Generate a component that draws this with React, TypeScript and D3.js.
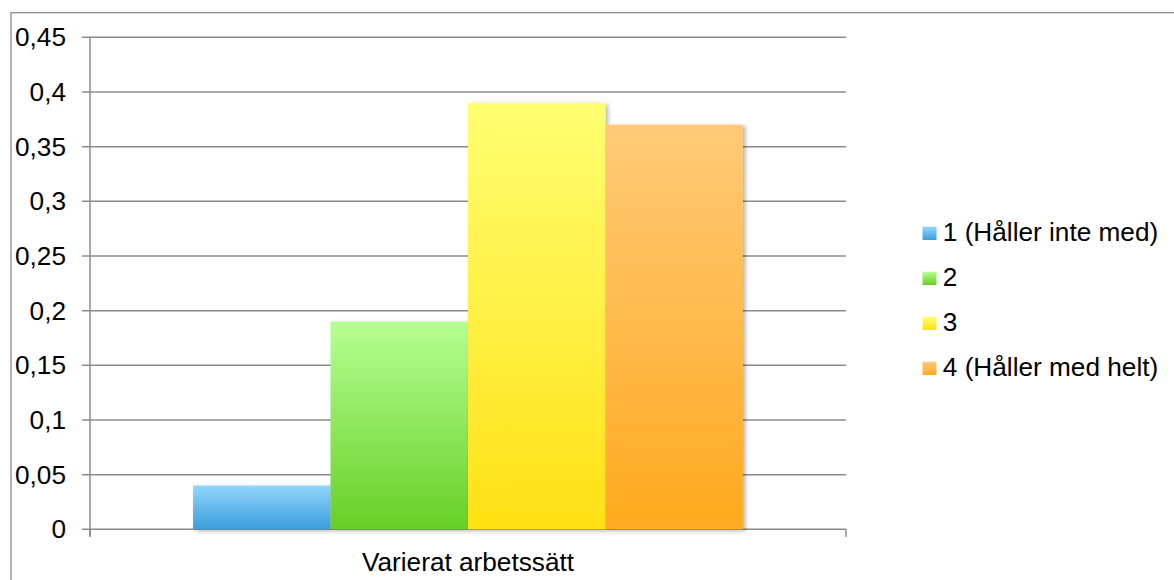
import React from "react";
import * as d3 from "d3";

// Share of answers per agreement level for one statement
const categories = ["Varierat arbetssätt"];
const seriesNames = ["1 (Håller inte med)", "2", "3", "4 (Håller med helt)"];
const seriesValues = [0.04, 0.19, 0.39, 0.37];
const yTicks = [0, 0.05, 0.1, 0.15, 0.2, 0.25, 0.3, 0.35, 0.4, 0.45];
// top / bottom colours of each bar's vertical gradient
const gradTop = ["#92d6fc", "#b6ff93", "#ffff72", "#ffca78"];
const gradBottom = ["#3b9edb", "#68cf26", "#ffe115", "#ffaa1f"];

const W = 1174;
const H = 580;
const plot = { left: 90, right: 846, top: 37.3, bottom: 529.3 };
const FONT = "'Liberation Sans', Arial, sans-serif";
const GRID = "#8c8c8c";
const FS = 26.2;

const fmt = (v: number) => String(v).replace(".", ",");

export default function App() {
  const y = d3.scaleLinear().domain([0, 0.45]).range([plot.bottom, plot.top]);
  const x0 = d3
    .scaleBand<string>()
    .domain(categories)
    .range([plot.left, plot.right])
    .paddingInner(0)
    .paddingOuter(0);
  // gap width 150% of a bar: 4 bars + 1.5 bars of gap per category
  const bw = x0.bandwidth() / (seriesNames.length + 1.5);
  const x1 = d3
    .scaleBand<string>()
    .domain(seriesNames)
    .range([0.75 * bw, 0.75 * bw + seriesNames.length * bw]);

  const legendX = 922.5;
  const legendY0 = 241;
  const legendStep = 45;

  return (
    <svg
      width={W}
      height={H}
      style={{ position: "absolute", left: 0, top: 0, background: "#fff" }}
      fontFamily={FONT}
    >
      <defs>
        {seriesNames.map((_, i) => (
          <linearGradient key={i} id={`g${i}`} x1="0" y1="0" x2="0" y2="1">
            <stop offset="0" stopColor={gradTop[i]} />
            <stop offset="1" stopColor={gradBottom[i]} />
          </linearGradient>
        ))}
        <filter id="shadow" x="-10%" y="-10%" width="130%" height="130%">
          <feDropShadow dx="2.5" dy="1.5" stdDeviation="2" floodColor="#000" floodOpacity="0.3" />
        </filter>
      </defs>

      {/* chart frame */}
      <rect x={11} y={12.7} width={W + 20} height={H + 20} fill="none" stroke="#8a8a8a" strokeWidth={1.3} />

      {/* gridlines with left ticks */}
      {yTicks.map((t) => (
        <g key={t}>
          <line x1={82} x2={plot.right} y1={y(t)} y2={y(t)} stroke={GRID} strokeWidth={1.5} />
          <text
            x={66}
            y={y(t)}
            dy="0.35em"
            textAnchor="end"
            fontSize={FS}
            fill="#000"
          >
            {fmt(t)}
          </text>
        </g>
      ))}

      {/* value axis */}
      <line x1={plot.left} x2={plot.left} y1={plot.top} y2={plot.bottom + 7.5} stroke={GRID} strokeWidth={1.5} />
      {/* category axis ticks */}
      {[plot.left, plot.right].map((xv) => (
        <line key={xv} x1={xv} x2={xv} y1={plot.bottom} y2={plot.bottom + 7.5} stroke={GRID} strokeWidth={1.5} />
      ))}

      {/* bars */}
      {categories.map((c) => (
        <g key={c} transform={`translate(${x0(c)},0)`}>
          {seriesNames.map((s, i) => (
            <rect
              key={s}
              x={x1(s)}
              y={y(seriesValues[i])}
              width={x1.bandwidth()}
              height={y(0) - y(seriesValues[i])}
              fill={`url(#g${i})`}
              filter="url(#shadow)"
            />
          ))}
          <text
            x={x0.bandwidth() / 2}
            y={570.5}
            textAnchor="middle"
            fontSize={FS}
            fill="#000"
          >
            {c}
          </text>
        </g>
      ))}

      {/* legend */}
      {seriesNames.map((s, i) => (
        <g key={s} transform={`translate(${legendX},${legendY0 + i * legendStep})`}>
          <rect x={0} y={-14.3} width={14} height={13.3} fill={`url(#g${i})`} />
          <text x={20.3} y={0} fontSize={FS} fill="#000">
            {s}
          </text>
        </g>
      ))}
    </svg>
  );
}
